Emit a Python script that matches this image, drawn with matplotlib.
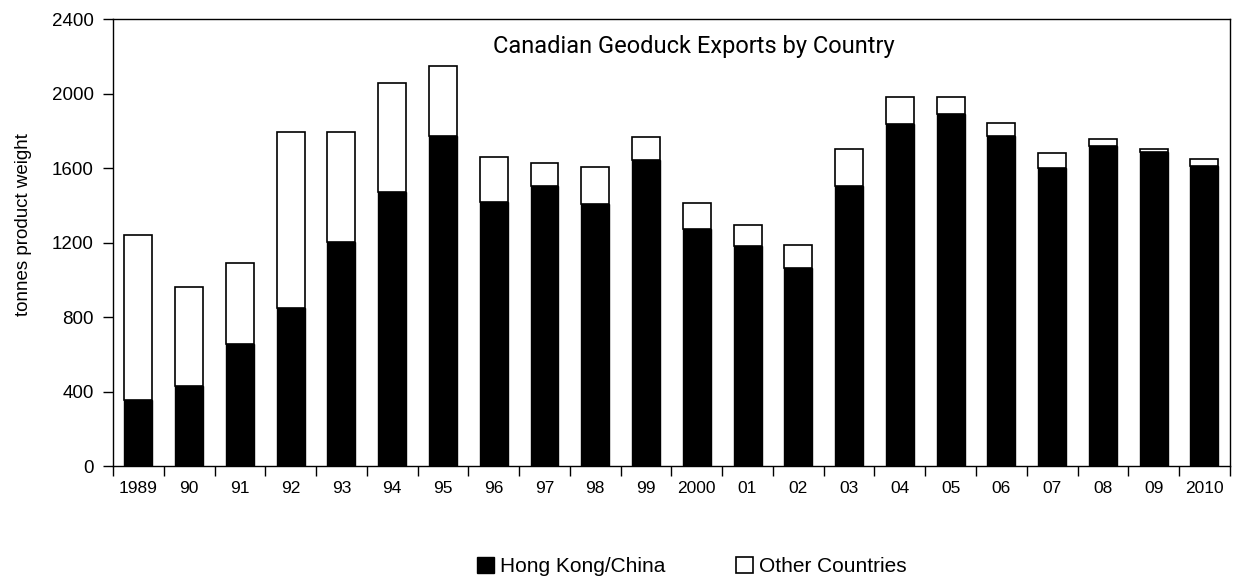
import matplotlib
matplotlib.use("Agg")
import matplotlib.pyplot as plt
import numpy as np

plt.rcParams["font.family"] = ["Liberation Sans", "DejaVu Sans"]

years = ["1989", "90", "91", "92", "93", "94", "95", "96", "97", "98", "99",
         "2000", "01", "02", "03", "04", "05", "06", "07", "08", "09", "2010"]
hong_kong = [354, 429, 656, 848, 1202, 1472, 1771, 1418, 1502, 1406, 1642,
             1275, 1180, 1064, 1504, 1835, 1890, 1772, 1601, 1720, 1688, 1613]
total = [1243, 962, 1091, 1797, 1797, 2057, 2151, 1660, 1627, 1606, 1767,
         1413, 1293, 1186, 1701, 1982, 1982, 1844, 1681, 1758, 1703, 1649]
other = [t - h for t, h in zip(total, hong_kong)]

fig = plt.figure(figsize=(12.36, 5.82), dpi=100)
ax = fig.add_axes([0.0914, 0.199, 0.9036, 0.768])

x = np.arange(len(years))
ax.bar(x, hong_kong, width=0.55, color="black", edgecolor="black",
       linewidth=1, label="Hong Kong/China")
ax.bar(x, other, width=0.55, bottom=hong_kong, color="white",
       edgecolor="black", linewidth=1.2, label="Other Countries")

ax.set_xlim(-0.5, len(years) - 0.5)
ax.set_ylim(0, 2400)
ax.set_yticks(range(0, 2401, 400))
ax.set_xticks(x)
ax.set_xticklabels(years, fontsize=12.5)
# category boundary ticks, Excel style
ax.set_xticks(np.arange(-0.5, len(years)), minor=True)
ax.tick_params(axis="x", which="major", length=0, pad=11)
ax.tick_params(axis="x", which="minor", length=7, width=1, direction="out")
ax.tick_params(axis="y", length=7, width=1, direction="out", labelsize=13.5, pad=7)
for s in ax.spines.values():
    s.set_linewidth(1)

ax.set_ylabel("tonnes product weight", fontsize=13.5)
ax.yaxis.set_label_coords(-0.0726, 0.541)
ax.text(0.52, 0.94, "Canadian Geoduck Exports by Country", transform=ax.transAxes,
        ha="center", va="center", fontsize=17, family=["Roboto", "DejaVu Sans"])

fig.legend(loc="center", bbox_to_anchor=(0.56, 0.026), ncol=2, frameon=False,
           fontsize=15, handlelength=0.8, handleheight=0.8, handletextpad=0.3,
           columnspacing=3.4)

plt.savefig("out.png", dpi=100)
